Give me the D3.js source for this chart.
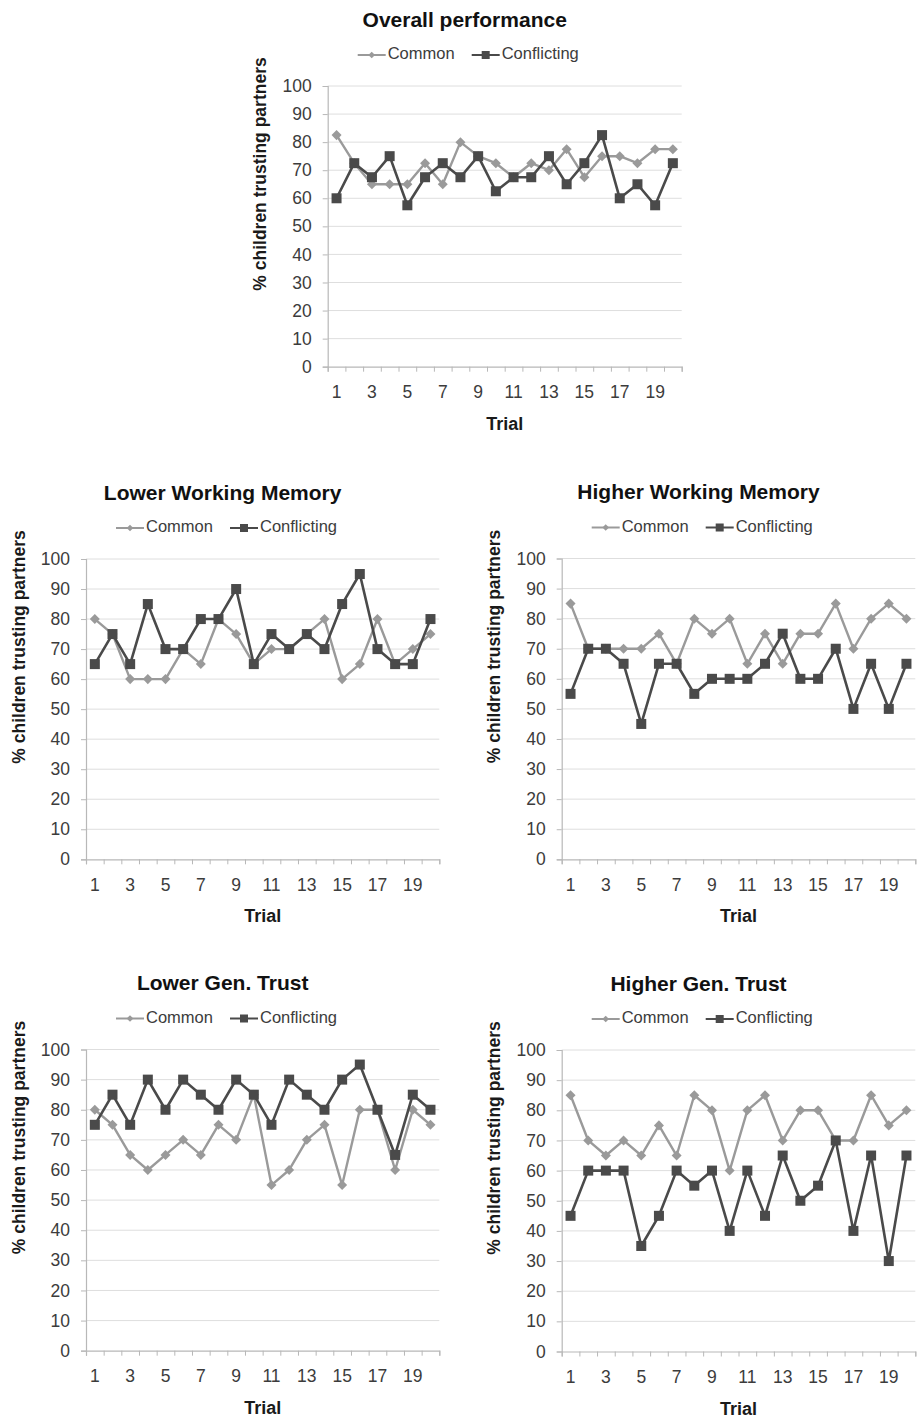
<!DOCTYPE html>
<html>
<head>
<meta charset="utf-8">
<script src="https://cdn.jsdelivr.net/npm/d3@7/dist/d3.min.js"></script>
<style>
  html, body { margin: 0; padding: 0; background: #fff; }
  svg { display: block; font-family: "Liberation Sans", Arial, sans-serif; }
</style>
</head>
<body>
<svg id="chart" width="918" height="1418"></svg>
<script>
// Trials and y-axis ticks
const trials = [1,2,3,4,5,6,7,8,9,10,11,12,13,14,15,16,17,18,19,20];
const trialLabels = [1,3,5,7,9,11,13,15,17,19];
const yTicks = [0,10,20,30,40,50,60,70,80,90,100];
const seriesNames = ["Common", "Conflicting"];
const panelTitles = ["Overall performance", "Lower Working Memory", "Higher Working Memory", "Lower Gen. Trust", "Higher Gen. Trust"];

// % children trusting partners, per trial
const overallCommon      = [82.5,72.5,65,65,65,72.5,65,80,75,72.5,67.5,72.5,70,77.5,67.5,75,75,72.5,77.5,77.5];
const overallConflicting = [60,72.5,67.5,75,57.5,67.5,72.5,67.5,75,62.5,67.5,67.5,75,65,72.5,82.5,60,65,57.5,72.5];
const lowWMCommon        = [80,75,60,60,60,70,65,80,75,65,70,70,75,80,60,65,80,65,70,75];
const lowWMConflicting   = [65,75,65,85,70,70,80,80,90,65,75,70,75,70,85,95,70,65,65,80];
const highWMCommon       = [85,70,70,70,70,75,65,80,75,80,65,75,65,75,75,85,70,80,85,80];
const highWMConflicting  = [55,70,70,65,45,65,65,55,60,60,60,65,75,60,60,70,50,65,50,65];
const lowTrustCommon      = [80,75,65,60,65,70,65,75,70,85,55,60,70,75,55,80,80,60,80,75];
const lowTrustConflicting = [75,85,75,90,80,90,85,80,90,85,75,90,85,80,90,95,80,65,85,80];
const highTrustCommon      = [85,70,65,70,65,75,65,85,80,60,80,85,70,80,80,70,70,85,75,80];
const highTrustConflicting = [45,60,60,60,35,45,60,55,60,40,60,45,65,50,55,70,40,65,30,65];

const COMMON_COLOR = "#9a9a9a";
const CONFLICT_COLOR = "#4a4a4a";

// Plot-area boxes for each panel
const panels = [
  { title: panelTitles[0], common: overallCommon,   conflicting: overallConflicting,   x: 327.7, y: 86,     w: 354,   h: 280.7 },
  { title: panelTitles[1], common: lowWMCommon,     conflicting: lowWMConflicting,     x: 86,    y: 559,    w: 353.3, h: 300.3 },
  { title: panelTitles[2], common: highWMCommon,    conflicting: highWMConflicting,    x: 561.7, y: 558.5,  w: 353.6, h: 300.8 },
  { title: panelTitles[3], common: lowTrustCommon,  conflicting: lowTrustConflicting,  x: 86,    y: 1049.5, w: 353.3, h: 301.2 },
  { title: panelTitles[4], common: highTrustCommon, conflicting: highTrustConflicting, x: 561.7, y: 1050,   w: 353.6, h: 301.5 }
];

const svg = d3.select("#chart");
const diamond = d3.symbol().type(d3.symbolDiamond2 || d3.symbolDiamond);

function drawPanel(p) {
  const g = svg.append("g").attr("transform", `translate(${p.x},${p.y})`);
  const x = d3.scaleBand().domain(trials).range([0, p.w]);
  const xb = d3.scaleLinear().domain([0.5, 20.5]).range([0, p.w]);
  const y = d3.scaleLinear().domain([0, 100]).range([p.h, 0]);
  const cx = d => x(d) + x.bandwidth() / 2;

  // horizontal gridlines
  g.append("g").selectAll("line").data(yTicks.filter(t => t > 0)).join("line")
    .attr("x1", 0).attr("x2", p.w)
    .attr("y1", d => y(d)).attr("y2", d => y(d))
    .attr("stroke", "#dedede").attr("stroke-width", 1);

  // y axis
  const ya = g.append("g").call(d3.axisLeft(y).tickValues(yTicks).tickSize(5).tickPadding(11));
  ya.select(".domain").attr("stroke", "#b8b8b8").attr("stroke-width", 1.2);
  ya.selectAll(".tick line").attr("stroke", "#b8b8b8");
  ya.selectAll(".tick text").attr("fill", "#3c3c3c").style("font-size", "17.5px");

  // x axis: tick marks on category boundaries, labels on odd trials
  const xa = g.append("g").attr("transform", `translate(0,${p.h})`)
    .call(d3.axisBottom(xb).tickValues(d3.range(0.5, 21, 1)).tickSize(5).tickFormat(""));
  xa.select(".domain").attr("stroke", "#b8b8b8").attr("stroke-width", 1.2);
  xa.selectAll(".tick line").attr("stroke", "#b8b8b8");
  const xl = g.append("g").attr("transform", `translate(0,${p.h})`)
    .call(d3.axisBottom(x).tickValues(trialLabels).tickSize(0).tickPadding(19));
  xl.select(".domain").remove();
  xl.selectAll(".tick text").attr("fill", "#3c3c3c").style("font-size", "17.5px");

  // axis titles
  g.append("text").attr("x", p.w / 2).attr("y", p.h + 63)
    .attr("text-anchor", "middle").attr("font-weight", "bold").attr("font-size", 18)
    .attr("fill", "#1a1a1a").text("Trial");
  g.append("text")
    .attr("transform", `translate(-66,88) rotate(-90)`)
    .attr("text-anchor", "middle").attr("dominant-baseline", "middle")
    .attr("font-weight", "bold").attr("font-size", 17.5).attr("fill", "#1a1a1a")
    .text("% children trusting partners");

  // chart title
  g.append("text").attr("x", p.w / 2 - 40).attr("y", -65)
    .attr("text-anchor", "middle").attr("dominant-baseline", "middle")
    .attr("font-weight", "bold").attr("font-size", 21).attr("fill", "#111")
    .text(p.title);

  // legend
  const leg = g.append("g").attr("transform", "translate(0,-31)");
  const items = [
    { name: seriesNames[0], color: COMMON_COLOR, x0: 30, type: "diamond" },
    { name: seriesNames[1], color: CONFLICT_COLOR, x0: 144, type: "square" }
  ];
  items.forEach(it => {
    leg.append("line").attr("x1", it.x0).attr("x2", it.x0 + 28).attr("y1", 0).attr("y2", 0)
      .attr("stroke", it.color).attr("stroke-width", 2);
    if (it.type === "diamond") {
      leg.append("path").attr("d", diamond.size(28)()).attr("transform", `translate(${it.x0 + 14},0)`)
        .attr("fill", it.color);
    } else {
      leg.append("rect").attr("x", it.x0 + 10).attr("y", -4).attr("width", 8).attr("height", 8)
        .attr("fill", it.color);
    }
    leg.append("text").attr("x", it.x0 + 30).attr("y", 0).attr("dominant-baseline", "middle")
      .attr("font-size", 16.5).attr("fill", "#3c3c3c").text(it.name);
  });

  const line = d3.line().x((d, i) => cx(trials[i])).y(d => y(d));

  // Common series
  g.append("path").datum(p.common).attr("d", line)
    .attr("fill", "none").attr("stroke", COMMON_COLOR).attr("stroke-width", 2.4)
    .attr("stroke-linejoin", "round");
  g.append("g").selectAll("path").data(p.common).join("path")
    .attr("d", diamond.size(64)())
    .attr("transform", (d, i) => `translate(${cx(trials[i])},${y(d)})`)
    .attr("fill", COMMON_COLOR);

  // Conflicting series
  g.append("path").datum(p.conflicting).attr("d", line)
    .attr("fill", "none").attr("stroke", CONFLICT_COLOR).attr("stroke-width", 2.6)
    .attr("stroke-linejoin", "round");
  g.append("g").selectAll("rect").data(p.conflicting).join("rect")
    .attr("x", (d, i) => cx(trials[i]) - 5).attr("y", d => y(d) - 5)
    .attr("width", 10).attr("height", 10)
    .attr("fill", CONFLICT_COLOR);
}

panels.forEach(drawPanel);
</script>
</body>
</html>
